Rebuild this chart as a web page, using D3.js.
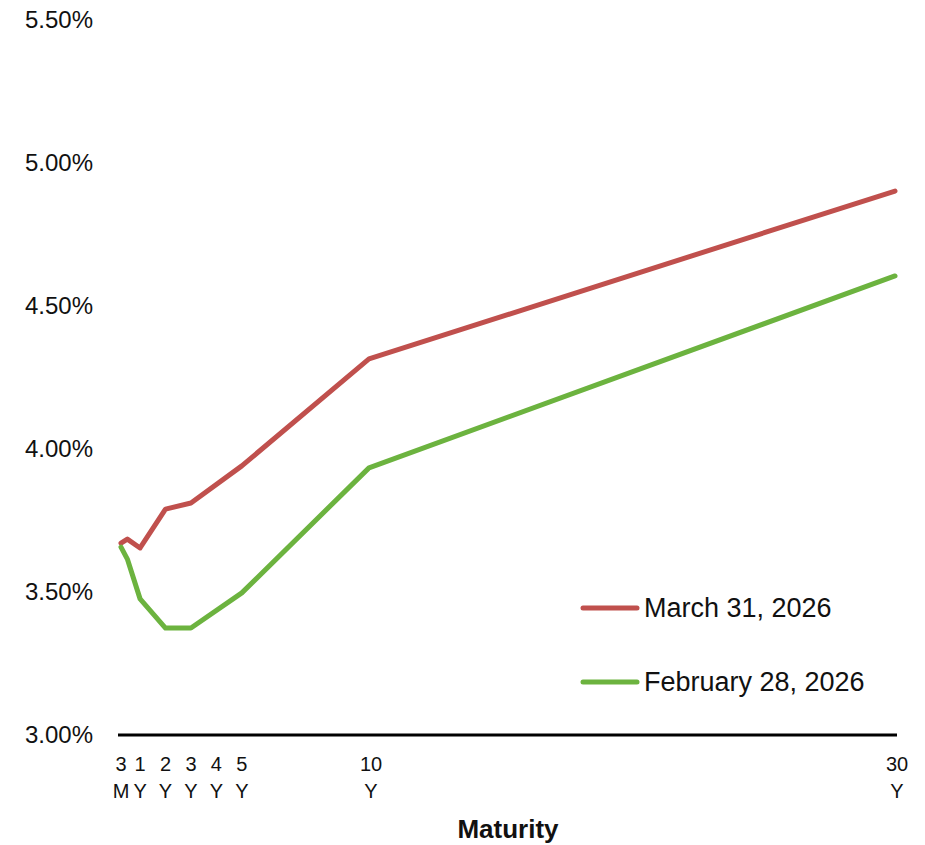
<!DOCTYPE html>
<html><head><meta charset="utf-8">
<script src="https://cdn.jsdelivr.net/npm/d3@7/dist/d3.min.js"></script>
<style>body{margin:0;background:#fff;}svg{display:block;font-family:"Liberation Sans",Arial,sans-serif;}</style>
</head><body>
<svg id="c" width="925" height="845"></svg>
<script>
const maturities = [0.25, 0.5, 1, 2, 3, 5, 10, 30];
const march31 = [3.671, 3.685, 3.654, 3.790, 3.811, 3.941, 4.315, 4.902];
const feb28 = [3.657, 3.615, 3.476, 3.374, 3.374, 3.497, 3.934, 4.605];
const seriesNames = ["March 31, 2026", "February 28, 2026"];
const seriesColors = ["#C0504D", "#6CB33F"];
const xTickValues = [0.25, 1, 2, 3, 4, 5, 10, 30];
const xTickLabels = [["3","M"],["1","Y"],["2","Y"],["3","Y"],["4","Y"],["5","Y"],["10","Y"],["30","Y"]];
const yTickValues = [3.0, 3.5, 4.0, 4.5, 5.0, 5.5];

const svg = d3.select("#c");
const x = d3.scaleLinear().domain([0.25, 10, 30]).range([121, 369, 895]);
const y = d3.scaleLinear().domain([3.0, 5.5]).range([735, 20]);

// y labels
svg.append("g").selectAll("text").data(yTickValues).join("text")
  .attr("x", 93).attr("y", d => y(d)).attr("dy", "0.35em")
  .attr("text-anchor", "end").attr("font-size", 24).attr("fill", "#111")
  .text(d => d.toFixed(2) + "%");

// x axis line
svg.append("line").attr("x1", 118).attr("x2", 897).attr("y1", y(3)).attr("y2", y(3))
  .attr("stroke", "#000").attr("stroke-width", 3);

// x tick labels
const xl = svg.append("g").selectAll("text").data(xTickValues).join("text")
  .attr("text-anchor", "middle").attr("font-size", 20).attr("fill", "#111");
xl.each(function(d, i) {
  const t = d3.select(this);
  const px = x(d) + (d >= 10 ? 2 : 0);
  t.append("tspan").attr("x", px).attr("y", 771).text(xTickLabels[i][0]);
  t.append("tspan").attr("x", px).attr("y", 798).text(xTickLabels[i][1]);
});

svg.append("text").attr("x", 508).attr("y", 838).attr("text-anchor", "middle")
  .attr("font-size", 26).attr("font-weight", "bold").attr("fill", "#111").text("Maturity");

const line = d3.line().x((d, i) => x(maturities[i])).y(d => y(d));
[march31, feb28].forEach((s, k) => {
  svg.append("path").datum(s).attr("d", line).attr("fill", "none")
    .attr("stroke", seriesColors[k]).attr("stroke-width", 5)
    .attr("stroke-linejoin", "round").attr("stroke-linecap", "round");
});

// legend
const ly = [608, 682];
seriesNames.forEach((n, k) => {
  svg.append("line").attr("x1", 583).attr("x2", 637).attr("y1", ly[k]).attr("y2", ly[k])
    .attr("stroke", seriesColors[k]).attr("stroke-width", 5).attr("stroke-linecap", "round");
  svg.append("text").attr("x", 644).attr("y", ly[k]).attr("dy", "0.35em")
    .attr("font-size", 27).attr("fill", "#111").text(n);
});
</script>
</body></html>
